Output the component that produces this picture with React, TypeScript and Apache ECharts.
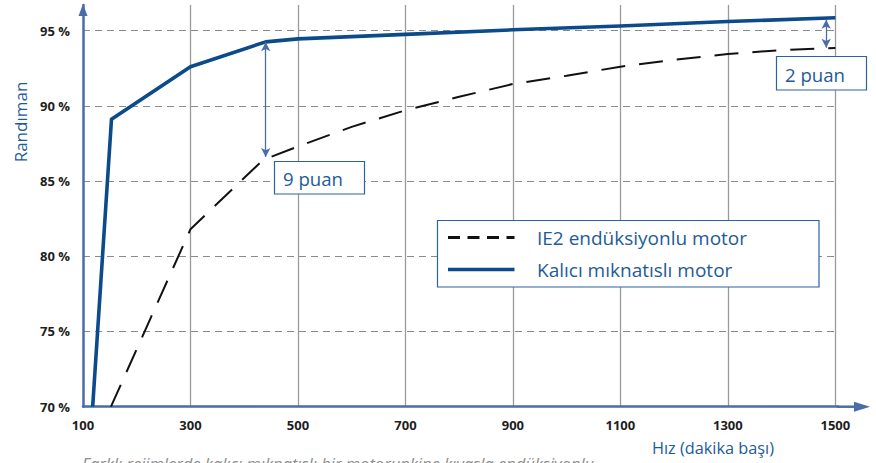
import React, { useEffect, useRef } from "react";
import * as echarts from "echarts";

// Speed (rpm) and efficiency (%)
const pmSpeeds = [118, 153, 300, 440, 500, 700, 900, 1100, 1300, 1500];
const pmEfficiency = [70, 89.1, 92.6, 94.25, 94.45, 94.75, 95.05, 95.3, 95.6, 95.85];

const ie2Speeds = [152, 300, 435, 500, 600, 700, 800, 900, 1000, 1100, 1200, 1300, 1400, 1500];
const ie2Efficiency = [70, 81.8, 86.4, 87.3, 88.6, 89.7, 90.6, 91.45, 92.0, 92.6, 93.05, 93.45, 93.7, 93.85];

const seriesNames = ["IE2 endüksiyonlu motor", "Kalıcı mıknatıslı motor"];
const gapArrows = [
  { speed: 440, high: 94.22, low: 86.6, label: "9 puan" },
  { speed: 1483, high: 95.72, low: 93.86, label: "2 puan" },
];
const yTicks = [70, 75, 80, 85, 90, 95];
const xTickStart = 100;
const xTickStep = 200;

const AXIS_BLUE = "#4a6ca8";
const LINE_BLUE = "#0b4a8b";
const TEXT_BLUE = "#1d5b99";
const FONT = "'Open Sans', 'DejaVu Sans', sans-serif";

export default function App() {
  const ref = useRef<HTMLDivElement>(null);

  useEffect(() => {
    if (!ref.current) return;
    const chart = echarts.init(ref.current, undefined, { renderer: "svg" });

    const option: any = {
      animation: false,
      backgroundColor: "#ffffff",
      textStyle: { fontFamily: FONT },
      grid: { left: 83, right: 38, top: 5, bottom: 56.3, containLabel: false },
      xAxis: {
        type: "value",
        min: xTickStart,
        max: 1505,
        interval: xTickStep,
        axisLine: { show: true, lineStyle: { color: AXIS_BLUE, width: 2.5 } },
        axisTick: { show: false },
        axisLabel: {
          margin: 12,
          color: "#1e1e1e",
          fontWeight: "bold",
          fontSize: 13,
          fontFamily: FONT,
          showMaxLabel: false,
          formatter: (v: number) => ((v - xTickStart) % xTickStep === 0 ? String(v) : ""),
        },
        splitLine: {
          show: true,
          showMinLine: false,
          showMaxLine: false,
          lineStyle: { color: "#9a9a9a", width: 1.3, type: "solid" },
        },
      },
      yAxis: {
        type: "value",
        min: yTicks[0],
        max: 96.7,
        interval: 5,
        axisLine: { show: true, lineStyle: { color: AXIS_BLUE, width: 2.5 } },
        axisTick: { show: false },
        axisLabel: {
          margin: 13,
          color: "#1e1e1e",
          fontWeight: "bold",
          fontSize: 13,
          fontFamily: FONT,
          showMaxLabel: false,
          formatter: (v: number) => (yTicks.includes(v) ? `${v} %` : ""),
        },
        splitLine: {
          show: true,
          showMinLine: false,
          showMaxLine: false,
          lineStyle: { color: "#8a8a8a", width: 1, type: [7, 5] },
        },
      },
      series: [
        {
          name: seriesNames[0],
          type: "line",
          data: ie2Speeds.map((s, i) => [s, ie2Efficiency[i]]),
          showSymbol: false,
          symbol: "none",
          lineStyle: { color: "#111111", width: 2, type: [24, 14] },
          z: 3,
        },
        {
          name: seriesNames[1],
          type: "line",
          data: pmSpeeds.map((s, i) => [s, pmEfficiency[i]]),
          showSymbol: false,
          symbol: "none",
          lineStyle: { color: LINE_BLUE, width: 3.6, join: "round" },
          z: 4,
          markLine: {
            silent: true,
            symbol: ["arrow", "arrow"],
            symbolSize: [7, 9],
            label: { show: false },
            lineStyle: { color: AXIS_BLUE, width: 1.3, type: "solid" },
            data: gapArrows.map((g) => [
              { coord: [g.speed, g.high] },
              { coord: [g.speed, g.low] },
            ]),
          },
        },
      ],
    };
    chart.setOption(option);

    const origin = chart.convertToPixel({ gridIndex: 0 }, [xTickStart, yTicks[0]]) as number[];
    const corner = chart.convertToPixel({ gridIndex: 0 }, [1505, 96.7]) as number[];
    const ox = origin[0];
    const oy = origin[1];
    const topY = corner[1];
    const rightX = corner[0];

    const graphic: any[] = [
      {
        type: "polygon",
        shape: { points: [[ox - 4.5, topY + 11], [ox, topY - 1], [ox + 4.5, topY + 11]] },
        style: { fill: AXIS_BLUE },
        z: 10,
      },
      {
        type: "line",
        shape: { x1: rightX - 1, y1: oy, x2: rightX + 19, y2: oy },
        style: { stroke: AXIS_BLUE, lineWidth: 2.5 },
        z: 10,
      },
      {
        type: "polygon",
        shape: { points: [[rightX + 16, oy - 5], [rightX + 32, oy], [rightX + 16, oy + 5]] },
        style: { fill: AXIS_BLUE },
        z: 10,
      },
      {
        type: "text",
        x: 20,
        y: 122,
        rotation: Math.PI / 2,
        style: {
          text: "Randıman",
          fill: TEXT_BLUE,
          font: `17px ${FONT}`,
          textAlign: "center",
          textVerticalAlign: "middle",
        },
      },
      {
        type: "text",
        x: 652,
        y: 448,
        style: {
          text: "Hız (dakika başı)",
          fill: TEXT_BLUE,
          font: `16.3px ${FONT}`,
          textAlign: "left",
          textVerticalAlign: "middle",
        },
      },
      {
        type: "text",
        x: 82,
        y: 455,
        style: {
          text: "Farklı rejimlerde kalıcı mıknatıslı bir motorunkine kıyasla endüksiyonlu",
          fill: "#8c8c8c",
          font: `italic 16.5px ${FONT}`,
          textAlign: "left",
          textVerticalAlign: "top",
        },
      },
      {
        type: "rect",
        shape: { x: 274.5, y: 161.5, width: 90, height: 32.5 },
        style: { fill: "#ffffff", stroke: "#2a64a0", lineWidth: 1.2 },
        z: 20,
      },
      {
        type: "text",
        x: 283,
        y: 178.5,
        style: { text: gapArrows[0].label, fill: TEXT_BLUE, font: `18.6px ${FONT}`, textVerticalAlign: "middle" },
        z: 21,
      },
      {
        type: "rect",
        shape: { x: 776.5, y: 56.5, width: 90, height: 33.5 },
        style: { fill: "#ffffff", stroke: "#2a64a0", lineWidth: 1.2 },
        z: 20,
      },
      {
        type: "text",
        x: 785,
        y: 74,
        style: { text: gapArrows[1].label, fill: TEXT_BLUE, font: `18.6px ${FONT}`, textVerticalAlign: "middle" },
        z: 21,
      },
      {
        type: "rect",
        shape: { x: 437.5, y: 220.5, width: 381.5, height: 66.5 },
        style: { fill: "#ffffff", stroke: "#2a64a0", lineWidth: 1.2 },
        z: 20,
      },
      {
        type: "line",
        shape: { x1: 448, y1: 237.5, x2: 514.5, y2: 237.5 },
        style: { stroke: "#111111", lineWidth: 3, lineDash: [12, 7.5] },
        z: 21,
      },
      {
        type: "line",
        shape: { x1: 448, y1: 269.5, x2: 514.5, y2: 269.5 },
        style: { stroke: LINE_BLUE, lineWidth: 3.6 },
        z: 21,
      },
      {
        type: "text",
        x: 537,
        y: 238,
        style: { text: seriesNames[0], fill: TEXT_BLUE, font: `19px ${FONT}`, textVerticalAlign: "middle" },
        z: 21,
      },
      {
        type: "text",
        x: 537,
        y: 270,
        style: { text: seriesNames[1], fill: TEXT_BLUE, font: `19px ${FONT}`, textVerticalAlign: "middle" },
        z: 21,
      },
    ];
    chart.setOption({ graphic });

    return () => chart.dispose();
  }, []);

  return (
    <div
      ref={ref}
      style={{ position: "fixed", left: 0, top: 0, width: 876, height: 463, background: "#fff" }}
    />
  );
}
